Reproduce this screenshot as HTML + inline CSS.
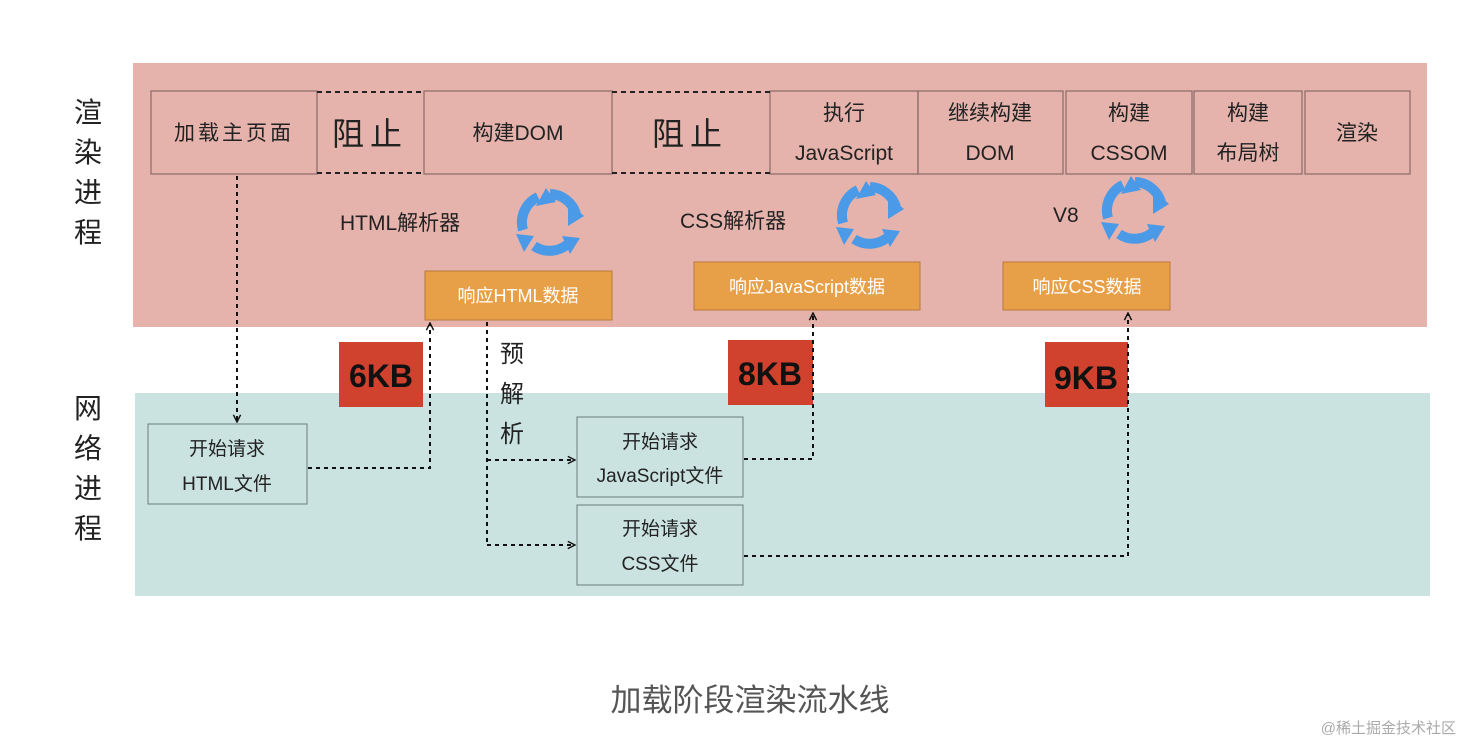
<!DOCTYPE html>
<html><head><meta charset="utf-8"><style>
html,body{margin:0;padding:0;background:#fff;}
svg text{font-family:"Liberation Sans","Noto Sans CJK SC",sans-serif;fill:#222;}
</style></head><body>
<svg width="1464" height="744" viewBox="0 0 1464 744" xmlns="http://www.w3.org/2000/svg">
<defs>
<marker id="ar" viewBox="0 0 10 10" refX="9" refY="5" markerWidth="9" markerHeight="9" orient="auto-start-reverse" markerUnits="userSpaceOnUse">
<path d="M1,1 L9,5 L1,9" fill="none" stroke="#111" stroke-width="1.6"/></marker>
<g id="cyc">
<path d="M0,-28 A28,28 0 0 1 26,-8" fill="none" stroke="#4a9ae8" stroke-width="10"/>
<polygon points="18,-20 34,-6 18,4" fill="#4a9ae8"/>
<path d="M20,20 A28,28 0 0 1 -16,24" fill="none" stroke="#4a9ae8" stroke-width="10"/>
<path d="M-27,8 A28,28 0 0 1 -12,-25" fill="none" stroke="#4a9ae8" stroke-width="10"/>
<polygon points="-4,-34 6,-20 -14,-16" fill="#4a9ae8"/>
<polygon points="-26,30 -34,12 -16,14" fill="#4a9ae8"/>
<polygon points="30,16 20,32 12,14" fill="#4a9ae8"/>
</g>
</defs>
<rect x="133" y="63" width="1294" height="264" fill="#e5b3ac"/>
<rect x="135" y="393" width="1295" height="203" fill="#cbe3e0"/>

<g fill="none" stroke="#8a6a66" stroke-width="1.2">
<rect x="151" y="91" width="166" height="83"/>
<rect x="424" y="91" width="188" height="83"/>
<rect x="770" y="91" width="148" height="83"/>
<rect x="918" y="91" width="145" height="83"/>
<rect x="1066" y="91" width="126" height="83"/>
<rect x="1194" y="91" width="108" height="83"/>
<rect x="1305" y="91" width="105" height="83"/>
</g>
<g stroke="#222" stroke-width="2" stroke-dasharray="5,4">
<line x1="317" y1="92" x2="424" y2="92"/><line x1="317" y1="173" x2="424" y2="173"/>
<line x1="612" y1="92" x2="770" y2="92"/><line x1="612" y1="173" x2="770" y2="173"/>
</g>
<g font-size="21" text-anchor="middle">
<text x="234" y="140" letter-spacing="3">加载主页面</text>
<text x="370" y="145" font-size="32" letter-spacing="6">阻止</text>
<text x="518" y="140">构建DOM</text>
<text x="690" y="145" font-size="32" letter-spacing="6">阻止</text>
<text x="844" y="120">执行</text><text x="844" y="160">JavaScript</text>
<text x="990" y="120">继续构建</text><text x="990" y="160">DOM</text>
<text x="1129" y="120">构建</text><text x="1129" y="160">CSSOM</text>
<text x="1248" y="120">构建</text><text x="1248" y="160">布局树</text>
<text x="1357" y="140">渲染</text>
</g>

<g font-size="21">
<text x="340" y="230">HTML解析器</text>
<text x="680" y="228">CSS解析器</text>
<text x="1053" y="222">V8</text>
</g>
<use href="#cyc" x="550" y="222"/>
<use href="#cyc" x="870" y="215"/>
<use href="#cyc" x="1135" y="210"/>

<g fill="#e8a048" stroke="#b9783a" stroke-width="1">
<rect x="425" y="271" width="187" height="49"/>
<rect x="694" y="262" width="226" height="48"/>
<rect x="1003" y="262" width="167" height="48"/>
</g>
<g font-size="18" text-anchor="middle" style="fill:#fff">
<text x="518" y="302" style="fill:#fff">响应HTML数据</text>
<text x="807" y="293" style="fill:#fff">响应JavaScript数据</text>
<text x="1087" y="293" style="fill:#fff">响应CSS数据</text>
</g>

<g fill="#d0412e">
<rect x="339" y="342" width="84" height="65"/>
<rect x="728" y="340" width="85" height="65"/>
<rect x="1045" y="342" width="83" height="65"/>
</g>
<g font-size="32" font-weight="bold" text-anchor="middle">
<text x="381" y="387" style="fill:#111">6KB</text>
<text x="770" y="385" style="fill:#111">8KB</text>
<text x="1086" y="389" style="fill:#111">9KB</text>
</g>

<g fill="none" stroke="#7a8e8c" stroke-width="1.2">
<rect x="148" y="424" width="159" height="80"/>
<rect x="577" y="417" width="166" height="80"/>
<rect x="577" y="505" width="166" height="80"/>
</g>
<g font-size="19" text-anchor="middle">
<text x="227" y="455">开始请求</text><text x="227" y="490">HTML文件</text>
<text x="660" y="448">开始请求</text><text x="660" y="482">JavaScript文件</text>
<text x="660" y="535">开始请求</text><text x="660" y="570">CSS文件</text>
</g>

<g fill="none" stroke="#111" stroke-width="2" stroke-dasharray="4,4">
<path d="M237,176 V422" marker-end="url(#ar)"/>
<path d="M308,468 H430 V323" marker-end="url(#ar)"/>
<path d="M487,322 V545"/>
<path d="M487,460 H575" marker-end="url(#ar)"/>
<path d="M487,545 H575" marker-end="url(#ar)"/>
<path d="M744,459 H813 V313" marker-end="url(#ar)"/>
<path d="M744,556 H1128 V313" marker-end="url(#ar)"/>
</g>
<g font-size="24" text-anchor="middle">
<text x="512" y="362">预</text><text x="512" y="402">解</text><text x="512" y="442">析</text>
</g>

<g font-size="28" text-anchor="middle">
<text x="88" y="122">渲</text><text x="88" y="162">染</text><text x="88" y="202">进</text><text x="88" y="242">程</text>
<text x="88" y="418">网</text><text x="88" y="458">络</text><text x="88" y="498">进</text><text x="88" y="538">程</text>
</g>

<text x="750" y="711" font-size="31" text-anchor="middle" style="fill:#555">加载阶段渲染流水线</text>
<text x="1456" y="733" font-size="15" text-anchor="end" style="fill:#aaa">@稀土掘金技术社区</text>
</svg>
</body></html>
